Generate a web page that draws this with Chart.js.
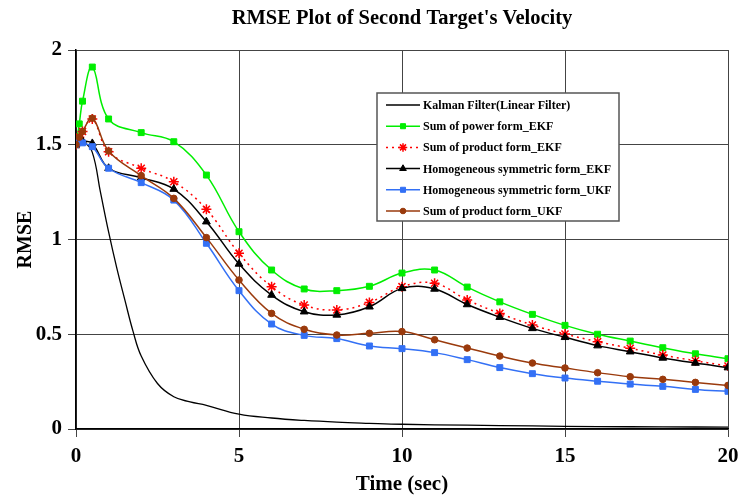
<!DOCTYPE html>
<html>
<head>
<meta charset="utf-8">
<script src="https://cdn.jsdelivr.net/npm/chart.js@4.4.0/dist/chart.umd.min.js"></script>
<style>
	html, body { margin: 0; padding: 0; background: #fff; }
	#wrap { width: 740px; height: 497px; }
</style>
</head>
<body>
<div id="wrap"><canvas id="myChart"></canvas></div>
<script>
// time steps of the marked series
const timeSteps = [0, 0.1, 0.2, 0.5, 1, 2, 3, 4, 5, 6, 7, 8, 9, 10, 11, 12, 13, 14, 15, 16, 17, 18, 19, 20];
const sumPowerEKF = [1.5, 1.61, 1.73, 1.91, 1.636, 1.564, 1.516, 1.34, 1.041, 0.839, 0.739, 0.73, 0.753, 0.823, 0.839, 0.749, 0.671, 0.605, 0.547, 0.5, 0.464, 0.429, 0.397, 0.371];
const sumProductEKF = [1.5, 1.54, 1.57, 1.636, 1.463, 1.376, 1.305, 1.159, 0.927, 0.751, 0.654, 0.628, 0.668, 0.751, 0.769, 0.681, 0.61, 0.549, 0.501, 0.461, 0.426, 0.39, 0.36, 0.332];
const homSymEKF = [1.5, 1.52, 1.52, 1.507, 1.376, 1.326, 1.266, 1.094, 0.871, 0.707, 0.619, 0.602, 0.645, 0.742, 0.739, 0.657, 0.59, 0.531, 0.484, 0.44, 0.408, 0.375, 0.348, 0.324];
const homSymUKF = [1.5, 1.516, 1.51, 1.49, 1.376, 1.3, 1.208, 0.98, 0.73, 0.554, 0.494, 0.477, 0.438, 0.424, 0.403, 0.366, 0.324, 0.292, 0.269, 0.252, 0.237, 0.225, 0.209, 0.199];
const sumProductUKF = [1.5, 1.54, 1.57, 1.64, 1.467, 1.337, 1.217, 1.01, 0.786, 0.61, 0.526, 0.496, 0.505, 0.514, 0.471, 0.427, 0.385, 0.348, 0.322, 0.297, 0.276, 0.262, 0.246, 0.23];

// kalman filter curve (no markers)
const kalmanTime = [0, 0.25, 0.5, 0.75, 1, 1.25, 1.5, 1.75, 2, 2.5, 3, 3.5, 4, 5, 6, 7, 8, 9, 10, 12, 14, 16, 18, 20];
const kalmanRMSE = [1.5, 1.51, 1.46, 1.25, 1.04, 0.85, 0.68, 0.515, 0.385, 0.24, 0.17, 0.143, 0.125, 0.078, 0.058, 0.045, 0.036, 0.03, 0.025, 0.02, 0.016, 0.013, 0.011, 0.01];

const seriesNames = [
	"Kalman Filter(Linear Filter)",
	"Sum of power form_EKF",
	"Sum of product form_EKF",
	"Homogeneous symmetric form_EKF",
	"Homogeneous symmetric form_UKF",
	"Sum of product form_UKF",
];

const serif = "'Liberation Serif', 'Times New Roman', serif";

function toPoints(xs, ys) {
	return xs.map((x, i) => ({ x: x, y: ys[i] }));
}

function series(label, ys, color, style, radius, extra) {
	return Object.assign({
		label: label,
		data: toPoints(timeSteps, ys),
		borderColor: color,
		backgroundColor: color,
		borderWidth: 1.5,
		pointStyle: style,
		pointRadius: radius,
		pointBorderWidth: 1,
		tension: 0.4,
	}, extra || {});
}

const datasets = [
	{
		label: seriesNames[0],
		data: toPoints(kalmanTime, kalmanRMSE),
		borderColor: "#000000",
		backgroundColor: "#000000",
		borderWidth: 1.3,
		pointRadius: 0,
		tension: 0.4,
		order: 6,
	},
	series(seriesNames[1], sumPowerEKF, "#00ee00", "rect", 4.2, { order: 5 }),
	series(seriesNames[2], sumProductEKF, "#ff0000", "star", 5, { order: 4, borderDash: [2, 4], pointBorderWidth: 1.5 }),
	series(seriesNames[3], homSymEKF, "#000000", "triangle", 4.5, { order: 3 }),
	series(seriesNames[4], homSymUKF, "#3370f5", "rect", 4.2, { order: 2 }),
	series(seriesNames[5], sumProductUKF, "#9a3a0c", "circle", 3.3, { order: 1 }),
];

// title + boxed legend drawn on top of the plot
const decorPlugin = {
	id: "decor",
	afterDraw(chart) {
		const ctx = chart.ctx;
		const area = chart.chartArea;
		ctx.save();
		ctx.fillStyle = "#000";
		ctx.font = "bold 20.5px " + serif;
		ctx.textAlign = "center";
		ctx.textBaseline = "middle";
		ctx.fillText("RMSE Plot of Second Target's Velocity", (area.left + area.right) / 2, 19);

		// legend box
		const bx = 377, by = 93, bw = 242, bh = 128;
		ctx.fillStyle = "#fff";
		ctx.fillRect(bx, by, bw, bh);
		ctx.strokeStyle = "#555";
		ctx.lineWidth = 1.5;
		ctx.strokeRect(bx, by, bw, bh);

		ctx.font = "bold 12px " + serif;
		ctx.textAlign = "left";
		chart.data.datasets.forEach((ds, i) => {
			const y = 105 + i * 21.2;
			ctx.strokeStyle = ds.borderColor;
			ctx.lineWidth = ds.borderWidth;
			ctx.setLineDash(ds.borderDash || []);
			ctx.beginPath();
			ctx.moveTo(386, y);
			ctx.lineTo(420, y);
			ctx.stroke();
			ctx.setLineDash([]);
			if (ds.pointRadius > 0) {
				ctx.fillStyle = ds.backgroundColor;
				ctx.lineWidth = ds.pointBorderWidth;
				Chart.helpers.drawPoint(ctx, {
					pointStyle: ds.pointStyle,
					radius: ds.pointRadius * 0.85,
					borderWidth: ds.pointBorderWidth,
				}, 403, y);
			}
			ctx.fillStyle = "#000";
			ctx.fillText(ds.label, 423, y + 1);
		});
		ctx.restore();
	},
};

const ctx = document.getElementById("myChart").getContext("2d");
const chart = new Chart(ctx, {
	type: "line",
	data: { datasets: datasets },
	options: {
		responsive: true,
		maintainAspectRatio: false,
		animation: false,
		layout: {
			padding: { top: 50, right: 12, left: 14, bottom: 0 },
		},
		scales: {
			x: {
				type: "linear",
				min: 0,
				max: 20,
				border: { color: "#000", width: 1.5 },
				grid: { color: "#444", lineWidth: 1, tickLength: 8 },
				ticks: {
					stepSize: 5,
					color: "#000",
					padding: 7,
					font: { family: serif, size: 21, weight: "bold" },
					maxRotation: 0,
				},
				title: {
					display: true,
					text: "Time (sec)",
					color: "#000",
					font: { family: serif, size: 21, weight: "bold" },
					padding: { top: 2, bottom: 0 },
				},
				afterFit: (scale) => {
					scale.height = 68;
					scale.paddingLeft = 0;
					scale.paddingRight = 0;
				},
			},
			y: {
				min: 0,
				max: 2,
				border: { color: "#000", width: 1.5 },
				grid: { color: "#444", lineWidth: 1, tickLength: 8 },
				ticks: {
					stepSize: 0.5,
					color: "#000",
					padding: 6,
					font: { family: serif, size: 21, weight: "bold" },
					callback: (v) => String(v),
				},
				title: {
					display: true,
					text: "RMSE",
					color: "#000",
					font: { family: serif, size: 20, weight: "bold" },
					padding: { top: 0, bottom: 4 },
				},
				afterFit: (scale) => { scale.width = 62; },
			},
		},
		plugins: {
			legend: { display: false },
			tooltip: { enabled: false },
		},
	},
	plugins: [decorPlugin],
});
</script>
</body>
</html>
